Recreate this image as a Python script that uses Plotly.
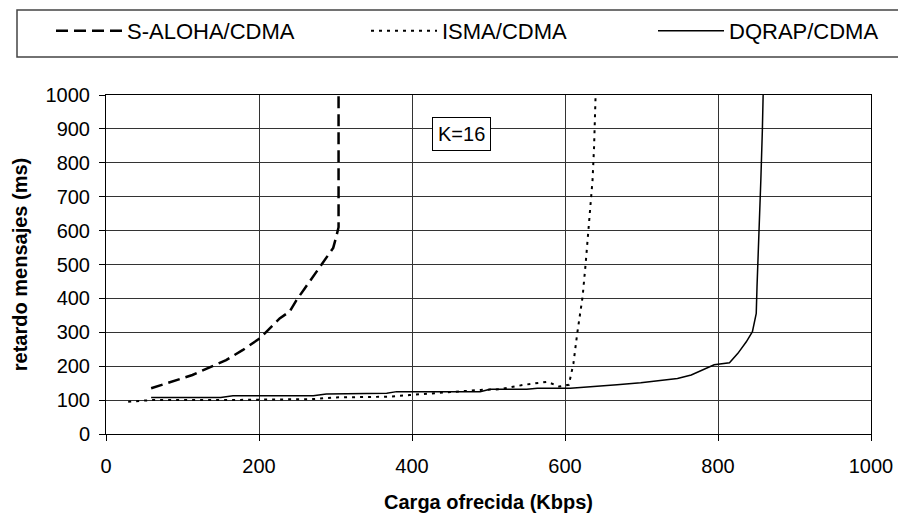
import plotly.graph_objects as go

# Data
saloha_x = [59, 80, 113, 157, 179, 201, 214, 227, 240, 249, 260, 275, 288, 297, 301, 304, 304, 304]
saloha_y = [135, 150, 174, 218, 248, 282, 312, 341, 361, 395, 430, 479, 523, 549, 582, 610, 700, 1000]

isma_x = [29, 59, 150, 270, 300, 370, 397, 454, 489, 515, 546, 577, 592, 605, 611, 616, 623, 627, 631, 636, 638, 639, 640]
isma_y = [95, 100, 100, 103, 108, 110, 115, 125, 130, 132, 145, 154, 140, 145, 208, 297, 405, 503, 621, 749, 847, 985, 1000]

dqrap_x = [59, 150, 166, 271, 288, 367, 380, 489, 502, 550, 564, 607, 668, 699, 747, 765, 795, 815, 826, 837, 845, 850, 851, 854, 856, 858, 859]
dqrap_y = [108, 108, 113, 113, 118, 120, 125, 125, 132, 132, 135, 135, 145, 151, 164, 174, 204, 210, 238, 272, 302, 356, 435, 602, 749, 897, 1000]

series_names = ["S-ALOHA/CDMA", "ISMA/CDMA", "DQRAP/CDMA"]
x_ticks = [0, 200, 400, 600, 800, 1000]
y_ticks = [0, 100, 200, 300, 400, 500, 600, 700, 800, 900, 1000]

FONT = "Liberation Sans, Arial, sans-serif"

fig = go.Figure()
fig.add_trace(go.Scatter(x=saloha_x, y=saloha_y, mode="lines", name=series_names[0], legend="legend",
                         line=dict(color="black", width=2.5, dash="12px,6px")))
fig.add_trace(go.Scatter(x=isma_x, y=isma_y, mode="lines", name=series_names[1], legend="legend2",
                         line=dict(color="black", width=2, dash="3px,5px")))
fig.add_trace(go.Scatter(x=dqrap_x, y=dqrap_y, mode="lines", name=series_names[2], legend="legend3",
                         line=dict(color="black", width=1.5)))

fig.add_annotation(x=465, y=885, xref="x", yref="y", text="K=16", showarrow=False,
                   font=dict(family=FONT, size=20, color="black"),
                   bordercolor="black", borderwidth=1, borderpad=5, bgcolor="white")

# legend frame
fig.add_shape(type="rect", xref="paper", yref="paper",
              x0=(17 - 106) / 765, x1=(905 - 106) / 765,
              y0=1 + (95 - 57) / 339, y1=1 + (95 - 10) / 339,
              line=dict(color="#444", width=1.5), fillcolor="rgba(0,0,0,0)", layer="above")

leg_common = dict(orientation="h", xref="container", yref="container", y=1 - 31 / 518,
                  yanchor="middle", xanchor="left", borderwidth=0, bgcolor="rgba(0,0,0,0)",
                  font=dict(family=FONT, size=22, color="black"), itemwidth=66)

fig.update_layout(
    width=898, height=518,
    margin=dict(l=106, r=27, t=95, b=84, autoexpand=False),
    paper_bgcolor="white", plot_bgcolor="white",
    font=dict(family=FONT, size=20, color="black"),
    legend=dict(x=51 / 898, **leg_common),
    legend2=dict(x=366 / 898, **leg_common),
    legend3=dict(x=653 / 898, **leg_common),
    showlegend=True,
)
fig.update_xaxes(range=[0, 1000], tickvals=x_ticks, showgrid=True, gridcolor="#333", gridwidth=1,
                 showline=True, linecolor="black", linewidth=1, mirror=True, automargin=False,
                 ticks="outside", ticklen=6, tickcolor="black", zeroline=False,
                 tickfont=dict(family=FONT, size=20), ticklabelstandoff=8,
                 title=dict(text="<b>Carga ofrecida (Kbps)</b>", font=dict(family=FONT, size=20), standoff=18))
fig.update_yaxes(range=[0, 1000], tickvals=y_ticks, showgrid=True, gridcolor="#333", gridwidth=1,
                 showline=True, linecolor="black", linewidth=1, mirror=True, automargin=False,
                 ticks="outside", ticklen=6, tickcolor="black", zeroline=False,
                 tickfont=dict(family=FONT, size=20), ticklabelstandoff=5,
                 title=dict(text="<b>retardo mensajes (ms)</b>", font=dict(family=FONT, size=20), standoff=12))

fig.write_html("out.html", config={"displayModeBar": False},
               post_script="document.body.style.margin='0';document.body.style.overflow='hidden';")
